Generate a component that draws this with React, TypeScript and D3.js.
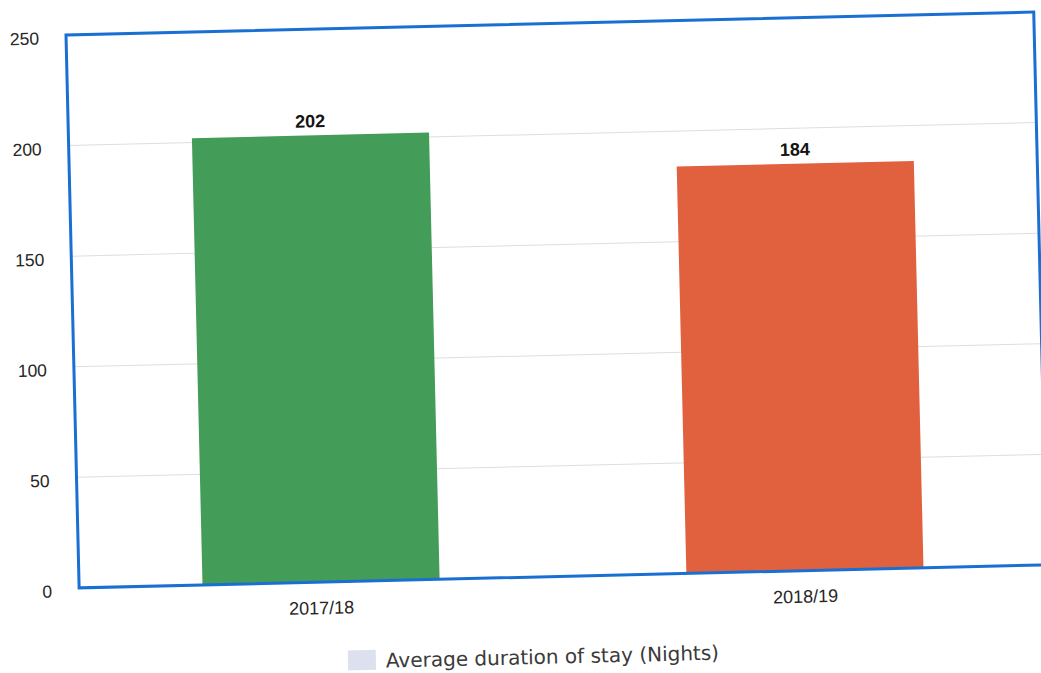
import React from "react";
import * as d3 from "d3";

// Chart values
const categories: string[] = ["2017/18", "2018/19"];
const nights: number[] = [202, 184];
const barColors: string[] = ["#439c57", "#e1613e"];
const yTicks: number[] = [0, 50, 100, 150, 200, 250];
const gridValues: number[] = [50, 100, 150, 200];
const seriesName = "Average duration of stay (Nights)";

const WIDTH = 1041;
const HEIGHT = 673;
const PLOT_W = 968;
const PLOT_H = 553;
const FRAME_BLUE = "#1a6fd3";

export default function App() {
  const x = d3
    .scaleBand<string>()
    .domain(categories)
    .range([0, PLOT_W])
    .paddingInner(0.51)
    .paddingOuter(0.255);
  const y = d3.scaleLinear().domain([0, 250]).range([PLOT_H, 0]);

  return (
    <svg
      width={WIDTH}
      height={HEIGHT}
      style={{ position: "absolute", left: 0, top: 0, background: "#ffffff" }}
    >
      <rect width={WIDTH} height={HEIGHT} fill="#ffffff" />
      {/* the whole page sits slightly tilted */}
      <g transform="translate(66,35) rotate(-1.36)">
        {gridValues.map((v) => (
          <line
            key={"g" + v}
            x1={0}
            x2={PLOT_W}
            y1={y(v)}
            y2={y(v)}
            stroke="#dcdee4"
            strokeWidth={1}
          />
        ))}
        {categories.map((c, i) => (
          <rect
            key={c}
            x={x(c)}
            y={y(nights[i])}
            width={x.bandwidth()}
            height={PLOT_H - y(nights[i])}
            fill={barColors[i]}
          />
        ))}
        {categories.map((c, i) => (
          <text
            key={"v" + c}
            x={(x(c) as number) + x.bandwidth() / 2}
            y={y(nights[i]) - 8}
            textAnchor="middle"
            fontFamily="Liberation Sans, Arial, sans-serif"
            fontWeight="bold"
            fontSize={18}
            fill="#141414"
          >
            {nights[i]}
          </text>
        ))}
        <rect
          x={0}
          y={0}
          width={PLOT_W}
          height={PLOT_H}
          fill="none"
          stroke={FRAME_BLUE}
          strokeWidth={3}
        />
        {yTicks.map((t) => (
          <text
            key={"t" + t}
            x={-27}
            y={y(t) + 9}
            textAnchor="end"
            fontFamily="Liberation Sans, Arial, sans-serif"
            fontSize={17.5}
            fill="#262626"
          >
            {t}
          </text>
        ))}
        {categories.map((c) => (
          <text
            key={"x" + c}
            x={(x(c) as number) + x.bandwidth() / 2}
            y={PLOT_H + 32}
            textAnchor="middle"
            fontFamily="Liberation Sans, Arial, sans-serif"
            fontSize={18}
            fill="#262626"
          >
            {c}
          </text>
        ))}
        <rect x={267} y={622} width={28} height={20} fill="#dde1ef" />
        <text
          x={305}
          y={640}
          fontFamily="DejaVu Sans, Verdana, sans-serif"
          fontSize={20}
          fill="#3a3a3a"
        >
          {seriesName}
        </text>
      </g>
    </svg>
  );
}
